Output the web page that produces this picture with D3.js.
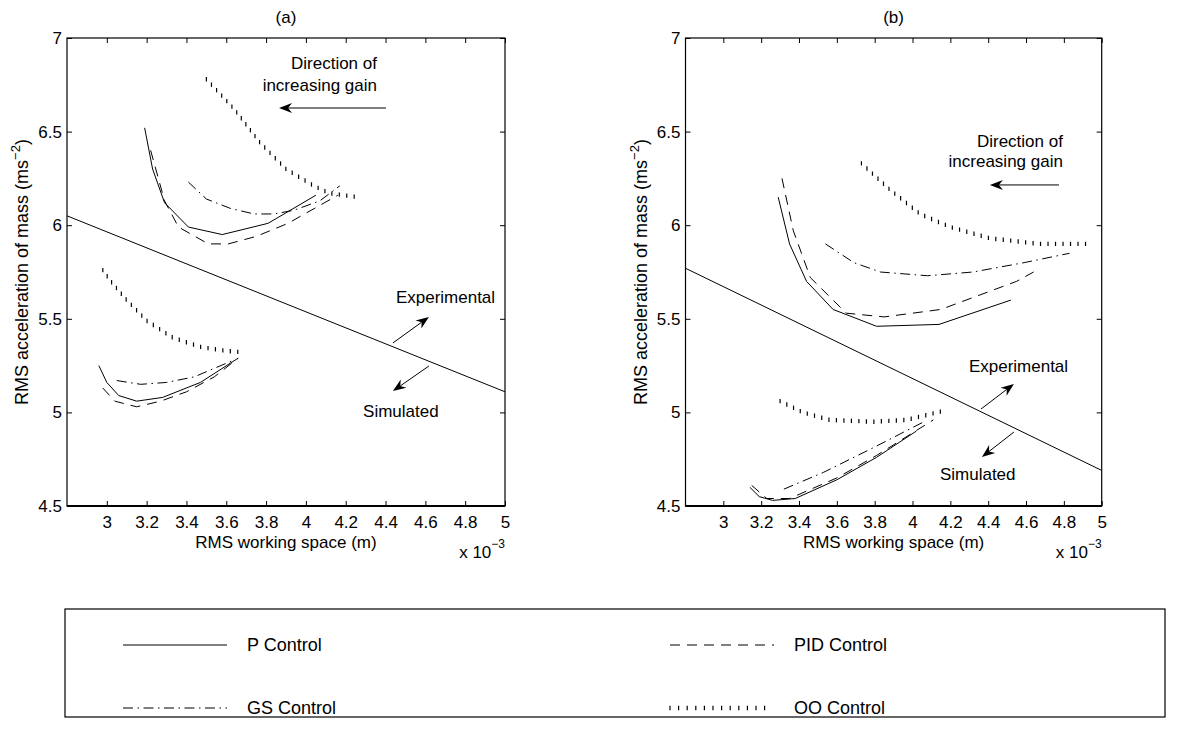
<!DOCTYPE html>
<html><head><meta charset="utf-8">
<script src="https://cdn.jsdelivr.net/npm/d3@7"></script>
<style>
body{margin:0;background:#fff}
svg{display:block}
text{font-family:"Liberation Sans",Arial,Helvetica,sans-serif;fill:#000}
</style>
</head><body>
<svg id="chart" width="1178" height="740"></svg>
<script>
// ---------- DATA ----------
const xTicks = [3, 3.2, 3.4, 3.6, 3.8, 4, 4.2, 4.4, 4.6, 4.8, 5];
const yTicks = [4.5, 5, 5.5, 6, 6.5, 7];
const xTickLabels = ["3","3.2","3.4","3.6","3.8","4","4.2","4.4","4.6","4.8","5"];
const yTickLabels = ["4.5","5","5.5","6","6.5","7"];
const xDomain = [2.8, 5];
const yDomain = [4.5, 7];
const seriesNames = ["P Control", "PID Control", "GS Control", "OO Control"];
const panelTitles = ["(a)", "(b)"];

// Panel (a): experimental (upper) and simulated (lower) branches
const aP_exp   = [[3.19,6.52],[3.23,6.30],[3.29,6.12],[3.41,5.99],[3.58,5.95],[3.81,6.01],[4.05,6.16]];
const aPID_exp = [[3.22,6.40],[3.29,6.13],[3.36,5.99],[3.51,5.90],[3.61,5.90],[3.75,5.94],[3.91,6.01],[4.16,6.16]];
const aGS_exp  = [[3.41,6.23],[3.50,6.14],[3.62,6.09],[3.74,6.06],[3.84,6.06],[3.94,6.08],[4.07,6.13],[4.17,6.21]];
const aOO_exp  = [[3.50,6.78],[3.64,6.62],[3.77,6.44],[3.90,6.30],[4.04,6.21],[4.12,6.17],[4.26,6.15]];
const aP_sim   = [[2.96,5.25],[3.00,5.16],[3.06,5.09],[3.15,5.06],[3.28,5.08],[3.47,5.16],[3.66,5.29]];
const aPID_sim = [[2.98,5.13],[3.04,5.06],[3.15,5.03],[3.27,5.06],[3.40,5.11],[3.54,5.19],[3.66,5.29]];
const aGS_sim  = [[3.05,5.17],[3.17,5.15],[3.30,5.16],[3.44,5.19],[3.55,5.24],[3.64,5.28]];
const aOO_sim  = [[2.98,5.76],[3.02,5.70],[3.10,5.60],[3.20,5.49],[3.33,5.40],[3.47,5.35],[3.59,5.33],[3.69,5.32]];
const aBoundary = [[2.8,6.05],[5.0,5.11]];

// Panel (b)
const bP_exp   = [[3.29,6.15],[3.35,5.90],[3.44,5.70],[3.58,5.55],[3.81,5.46],[4.14,5.47],[4.52,5.60]];
const bPID_exp = [[3.31,6.25],[3.37,5.97],[3.46,5.72],[3.56,5.62],[3.65,5.53],[3.85,5.51],[4.15,5.55],[4.55,5.70],[4.64,5.75]];
const bGS_exp  = [[3.54,5.90],[3.69,5.80],[3.83,5.75],[4.08,5.73],[4.32,5.75],[4.59,5.80],[4.83,5.85]];
const bOO_exp  = [[3.73,6.33],[3.88,6.19],[4.04,6.06],[4.20,5.99],[4.41,5.93],[4.67,5.90],[4.95,5.90]];
const bP_sim   = [[3.14,4.60],[3.19,4.55],[3.26,4.53],[3.38,4.54],[3.60,4.64],[3.81,4.76],[4.02,4.90]];
const bPID_sim = [[3.15,4.61],[3.23,4.54],[3.35,4.54],[3.60,4.65],[3.81,4.77],[4.11,4.96]];
const bGS_sim  = [[3.32,4.59],[3.53,4.68],[3.79,4.81],[4.06,4.95]];
const bOO_sim  = [[3.30,5.06],[3.42,5.00],[3.56,4.96],[3.79,4.95],[3.97,4.96],[4.09,4.99],[4.17,5.01]];
const bBoundary = [[2.8,5.77],[5.0,4.69]];

// ---------- LAYOUT ----------
const W = 1178, H = 740;
const plotTop = 38, plotBottom = 506;
const panelBoxes = [{left: 67, right: 505}, {left: 685.5, right: 1101.7}];
const fontSize = 17;
const styles = {
  "P Control":   {dash: null},
  "PID Control": {dash: "10,7"},
  "GS Control":  {dash: "10,4.5,1.5,4.5"},
  "OO Control":  {dots: true}
};
const panels = [
  {series: [["P Control",aP_exp],["PID Control",aPID_exp],["GS Control",aGS_exp],["OO Control",aOO_exp],
            ["P Control",aP_sim],["PID Control",aPID_sim],["GS Control",aGS_sim],["OO Control",aOO_sim]],
   boundary: aBoundary,
   ann: {dirX: 4.357, dirY1: 6.835, dirY2: 6.718, gainArrow: [[4.402,6.626],[3.865,6.626]],
         expX: 4.452, expY: 5.584, expArrow: [[4.437,5.371],[4.618,5.510]],
         simX: 4.287, simY: 4.975, simArrow: [[4.618,5.248],[4.437,5.114]]}},
  {series: [["P Control",bP_exp],["PID Control",bPID_exp],["GS Control",bGS_exp],["OO Control",bOO_exp],
            ["P Control",bP_sim],["PID Control",bPID_sim],["GS Control",bGS_sim],["OO Control",bOO_sim]],
   boundary: bBoundary,
   ann: {dirX: 4.795, dirY1: 6.418, dirY2: 6.311, gainArrow: [[4.774,6.215],[4.409,6.215]],
         expX: 4.298, expY: 5.216, expArrow: [[4.362,5.018],[4.536,5.152]],
         simX: 4.145, simY: 4.639, simArrow: [[4.536,4.895],[4.367,4.762]]}}
];

const svg = d3.select("#chart");
svg.append("rect").attr("width", W).attr("height", H).attr("fill", "#fff");

function arrow(g, p0, p1) {
  const dx = p1[0]-p0[0], dy = p1[1]-p0[1];
  const len = Math.hypot(dx, dy), ux = dx/len, uy = dy/len, nx = -uy, ny = ux;
  const L = 13, Wd = 5, notch = 9;
  g.append("line").attr("x1", p0[0]).attr("y1", p0[1])
    .attr("x2", p1[0]-ux*notch).attr("y2", p1[1]-uy*notch)
    .attr("stroke", "#000").attr("stroke-width", 1);
  const pts = [
    [p1[0], p1[1]],
    [p1[0]-ux*L+nx*Wd, p1[1]-uy*L+ny*Wd],
    [p1[0]-ux*notch, p1[1]-uy*notch],
    [p1[0]-ux*L-nx*Wd, p1[1]-uy*L-ny*Wd]
  ];
  g.append("path").attr("d", "M" + pts.map(p => p.join(",")).join("L") + "Z").attr("fill", "#000");
}

function dotted(g, pathD, spacing) {
  const p = g.append("path").attr("d", pathD).attr("fill", "none").attr("stroke", "none");
  const node = p.node(), total = node.getTotalLength();
  for (let s = 0; s <= total + 0.01; s += spacing) {
    const pt = node.getPointAtLength(Math.min(s, total));
    g.append("line").attr("x1", pt.x).attr("x2", pt.x).attr("y1", pt.y-2.2).attr("y2", pt.y+2.2)
      .attr("stroke", "#000").attr("stroke-width", 1.2);
  }
}

panels.forEach((pn, i) => {
  const box = panelBoxes[i];
  const x = d3.scaleLinear().domain(xDomain).range([box.left, box.right]);
  const y = d3.scaleLinear().domain(yDomain).range([plotBottom, plotTop]);
  const g = svg.append("g");
  const cx = (box.left + box.right) / 2;

  // title
  g.append("text").attr("x", cx).attr("y", 23).attr("text-anchor", "middle")
    .attr("font-size", fontSize).text(panelTitles[i]);

  // axes with inward ticks
  const xb = d3.axisBottom(x).tickValues(xTicks).tickSizeInner(-5).tickSizeOuter(0)
    .tickFormat((d, k) => xTickLabels[k]).tickPadding(10);
  const xt = d3.axisTop(x).tickValues(xTicks).tickSizeInner(-5).tickSizeOuter(0).tickFormat("");
  const yl = d3.axisLeft(y).tickValues(yTicks).tickSizeInner(-5).tickSizeOuter(0)
    .tickFormat((d, k) => yTickLabels[k]).tickPadding(5);
  const yr = d3.axisRight(y).tickValues(yTicks).tickSizeInner(-5).tickSizeOuter(0).tickFormat("");
  [[xb, `translate(0,${plotBottom})`], [xt, `translate(0,${plotTop})`],
   [yl, `translate(${box.left},0)`], [yr, `translate(${box.right},0)`]].forEach(([ax, tr]) => {
    const a = g.append("g").attr("transform", tr).call(ax);
    a.selectAll("text").attr("font-size", fontSize).attr("font-family", "Liberation Sans, Arial, sans-serif").attr("fill", "#000");
    a.selectAll("line").attr("stroke", "#000");
    a.select(".domain").remove();
  });
  g.append("rect").attr("x", box.left).attr("y", plotTop)
    .attr("width", box.right - box.left).attr("height", plotBottom - plotTop)
    .attr("fill", "none").attr("stroke", "#000").attr("stroke-width", 1.2);
  g.append("line").attr("x1", box.left).attr("x2", box.right).attr("y1", plotBottom).attr("y2", plotBottom)
    .attr("stroke", "#000").attr("stroke-width", 2);

  // axis labels
  g.append("text").attr("x", cx).attr("y", 548).attr("text-anchor", "middle")
    .attr("font-size", fontSize).text("RMS working space (m)");
  const ex = g.append("text").attr("x", box.right).attr("y", 558).attr("text-anchor", "end").attr("font-size", fontSize);
  ex.append("tspan").text("x 10");
  ex.append("tspan").attr("dy", -10).attr("font-size", 12).text("−3");
  const ylab = g.append("text")
    .attr("transform", `translate(${box.left - 39},${(plotTop + plotBottom) / 2}) rotate(-90)`)
    .attr("text-anchor", "middle").attr("font-size", 18);
  ylab.append("tspan").text("RMS acceleration of mass (ms");
  ylab.append("tspan").attr("dy", -8).attr("font-size", 13).text("−2");
  ylab.append("tspan").attr("dy", 8).text(")");

  // data
  const line = d3.line().x(d => x(d[0])).y(d => y(d[1]));
  const clip = "clip" + i;
  svg.append("clipPath").attr("id", clip).append("rect")
    .attr("x", box.left).attr("y", plotTop).attr("width", box.right - box.left).attr("height", plotBottom - plotTop);
  const dg = g.append("g").attr("clip-path", `url(#${clip})`);
  dg.append("path").attr("d", line(pn.boundary)).attr("fill", "none").attr("stroke", "#000").attr("stroke-width", 1);
  pn.series.forEach(([name, pts]) => {
    const st = styles[name];
    if (st.dots) { dotted(dg, line(pts), 7.5); return; }
    dg.append("path").attr("d", line(pts)).attr("fill", "none").attr("stroke", "#000")
      .attr("stroke-width", 1).attr("stroke-dasharray", st.dash);
  });

  // annotations
  const a = pn.ann;
  g.append("text").attr("x", x(a.dirX)).attr("y", y(a.dirY1)).attr("text-anchor", "end").attr("font-size", fontSize).text("Direction of");
  g.append("text").attr("x", x(a.dirX)).attr("y", y(a.dirY2)).attr("text-anchor", "end").attr("font-size", fontSize).text("increasing gain");
  arrow(g, [x(a.gainArrow[0][0]), y(a.gainArrow[0][1])], [x(a.gainArrow[1][0]), y(a.gainArrow[1][1])]);
  g.append("text").attr("x", x(a.expX)).attr("y", y(a.expY)).attr("font-size", fontSize).text("Experimental");
  arrow(g, [x(a.expArrow[0][0]), y(a.expArrow[0][1])], [x(a.expArrow[1][0]), y(a.expArrow[1][1])]);
  g.append("text").attr("x", x(a.simX)).attr("y", y(a.simY)).attr("font-size", fontSize).text("Simulated");
  arrow(g, [x(a.simArrow[0][0]), y(a.simArrow[0][1])], [x(a.simArrow[1][0]), y(a.simArrow[1][1])]);
});

// ---------- LEGEND ----------
const lg = svg.append("g");
lg.append("rect").attr("x", 65).attr("y", 609).attr("width", 1100).attr("height", 108)
  .attr("fill", "none").attr("stroke", "#000").attr("stroke-width", 1.2);
const legendPos = [[123, 645], [670, 645], [123, 708], [670, 708]];
seriesNames.forEach((name, k) => {
  const [lx, ly] = legendPos[k];
  const st = styles[name];
  if (st.dots) {
    dotted(lg, `M${lx},${ly}L${lx + 100},${ly}`, 8.6);
  } else {
    lg.append("line").attr("x1", lx).attr("x2", lx + 104).attr("y1", ly).attr("y2", ly)
      .attr("stroke", "#000").attr("stroke-width", 1).attr("stroke-dasharray", st.dash);
  }
  lg.append("text").attr("x", lx + 124).attr("y", ly + 6).attr("font-size", 18).text(name);
});
</script>
</body></html>
